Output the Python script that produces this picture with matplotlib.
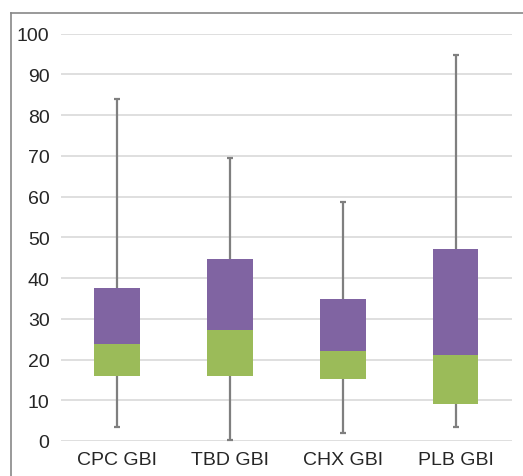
import numpy as np
import matplotlib.pyplot as plt
from matplotlib.lines import Line2D

plt.rcParams['font.family'] = ['Liberation Sans', 'DejaVu Sans']

# Box plot data
categories = ['CPC GBI', 'TBD GBI', 'CHX GBI', 'PLB GBI']
mins = [3.5, 0.3, 1.9, 3.5]
q1 = [16.0, 16.0, 15.2, 9.1]
medians = [23.8, 27.3, 22.1, 21.1]
q3 = [37.6, 44.7, 34.9, 47.1]
maxs = [84.0, 69.6, 58.8, 94.8]

green = '#9BBB59'
purple = '#8064A2'
whisker = '#7F7F7F'

x = np.arange(len(categories))
q1 = np.array(q1)
med = np.array(medians)
q3 = np.array(q3)

fig = plt.figure(figsize=(5.23, 4.77), dpi=100)
ax = fig.add_axes([60.7 / 523, 35 / 477, (512 - 60.7) / 523, (442 - 34.7) / 477])

# whiskers (behind the boxes), caps only at the outer ends
ax.vlines(x, mins, q1, color=whisker, linewidth=1.6, zorder=2)
ax.vlines(x, q3, maxs, color=whisker, linewidth=1.6, zorder=2)
ax.plot(x, mins, linestyle='none', marker='_', markersize=5, markeredgewidth=1.6,
        color=whisker, zorder=2)
ax.plot(x, maxs, linestyle='none', marker='_', markersize=5, markeredgewidth=1.6,
        color=whisker, zorder=2)

# boxes as stacked bars
bar_width = 0.405
ax.bar(x, med - q1, bottom=q1, width=bar_width, color=green, zorder=3)
ax.bar(x, q3 - med, bottom=med, width=bar_width, color=purple, zorder=3)

ax.set_xlim(-0.5, 3.5)
ax.set_ylim(0, 100)
ax.set_yticks(np.arange(0, 101, 10))
ax.set_xticks(x, categories)
ax.yaxis.grid(True, color='#D9D9D9', linewidth=1.2, zorder=0)
ax.set_axisbelow(True)
for s in ax.spines.values():
    s.set_visible(False)
ax.tick_params(length=0, labelsize=14, colors='#262626')
ax.tick_params(axis='y', pad=8)
ax.tick_params(axis='x', pad=7)

# outer chart frame (left and top edges visible)
fig.add_artist(Line2D([11 / 523, 11 / 523], [0, 1 - 14 / 477], color='#878787', linewidth=1.2))
fig.add_artist(Line2D([11 / 523, 1], [1 - 14 / 477, 1 - 14 / 477], color='#878787', linewidth=1.2))

fig.savefig('out.png', dpi=100)
